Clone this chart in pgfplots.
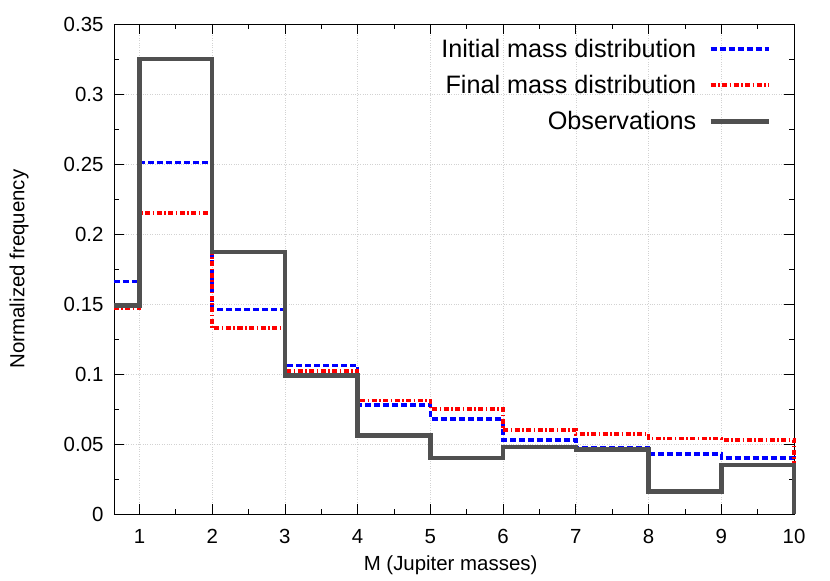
\documentclass[border=0pt]{standalone}
\usepackage{fontspec}
\setmainfont{Liberation Sans}
\usepackage{pgfplots}
\pgfplotsset{compat=1.18}
\usetikzlibrary{calc}

\definecolor{obsgray}{RGB}{80,80,80}

\begin{document}
\begin{tikzpicture}
\begin{axis}[
    scale only axis,
    width=680bp, height=490bp,
    xmin=0.65, xmax=10, ymin=0, ymax=0.35,
    xtick={1,2,3,4,5,6,7,8,9,10},
    ytick={0,0.05,0.1,0.15,0.2,0.25,0.3,0.35},
    minor x tick num=1, minor y tick num=1,
    tick align=inside,
    major tick length=10bp, minor tick length=5bp,
    tick style={black, line width=0.8bp},
    axis line style={line width=0.9bp},
    grid=major,
    grid style={dotted, gray!35, line width=0.5bp},
    font=\fontsize{20.5}{24}\selectfont,
    /pgf/number format/assume math mode=true,
    scaled y ticks=false,
    yticklabel style={/pgf/number format/fixed, xshift=-7bp},
    xticklabel style={yshift=-12bp},
    xlabel={M (Jupiter masses)},
    ylabel={Normalized frequency},
    xlabel style={at={(axis description cs:0.495,-0.104)}, anchor=center},
    ylabel style={at={(axis description cs:-0.1397,0.5)}, anchor=center},
    legend style={draw=none, fill=none, at={(axis description cs:0.9706,0.978)},
        anchor=north east, row sep=12.5bp, column sep=10bp,
        font=\fontsize{25.3}{29}\selectfont},
    legend cell align=right,
    legend plot pos=right,
    legend image code/.code={\draw[#1] (0bp,0bp) -- (58bp,0bp);},
    clip=false,
]
\addplot[const plot, color=blue, line width=3.5bp, dash pattern=on 6bp off 3bp]
    coordinates {(0.65,0.166) (1,0.251) (2,0.146) (3,0.106) (4,0.078) (5,0.068)
                 (6,0.053) (7,0.047) (8,0.043) (9,0.040) (10,0.040) (10,0)};
\addlegendentry{Initial mass distribution}
\addplot[const plot, color=red, line width=3.5bp, dash pattern=on 5bp off 2.5bp on 1.5bp off 2.5bp]
    coordinates {(0.65,0.147) (1,0.215) (2,0.133) (3,0.102) (4,0.081) (5,0.075)
                 (6,0.060) (7,0.057) (8,0.054) (9,0.053) (10,0.053) (10,0)};
\addlegendentry{Final mass distribution}
\addplot[const plot, color=obsgray, line width=4.5bp]
    coordinates {(0.65,0.149) (1,0.325) (2,0.187) (3,0.099) (4,0.056) (5,0.040)
                 (6,0.048) (7,0.046) (8,0.016) (9,0.035) (10,0.035) (10,0)};
\addlegendentry{Observations}
\end{axis}
\pgfresetboundingbox
\path ($(current axis.south west)+(-114bp,-67bp)$) rectangle ($(current axis.north east)+(36bp,24bp)$);
\end{tikzpicture}
\end{document}
